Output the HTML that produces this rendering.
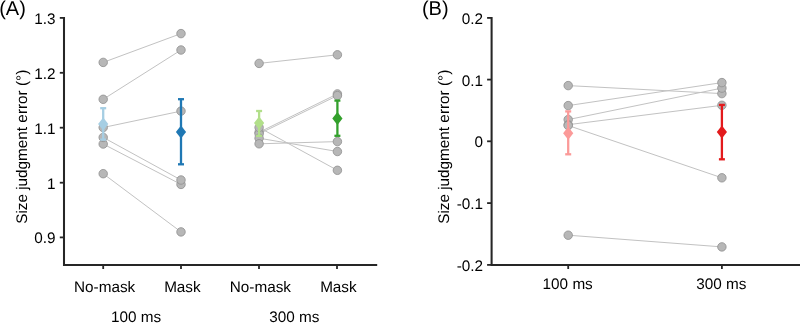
<!DOCTYPE html>
<html><head><meta charset="utf-8"><title>Figure</title>
<style>
html,body{margin:0;padding:0;background:#fff;}
svg{display:block;will-change:transform;}
text{text-rendering:geometricPrecision;font-family:"Liberation Sans",sans-serif;fill:#000;}
</style></head>
<body>
<svg width="800" height="323" viewBox="0 0 800 323">
<rect width="800" height="323" fill="#ffffff"/>
<line x1="103.2" y1="62.4" x2="181.0" y2="33.6" stroke="#c2c2c2" stroke-width="1"/>
<line x1="103.2" y1="99.3" x2="181.0" y2="50.0" stroke="#c2c2c2" stroke-width="1"/>
<line x1="103.2" y1="173.7" x2="181.0" y2="231.9" stroke="#c2c2c2" stroke-width="1"/>
<line x1="103.2" y1="144.0" x2="181.0" y2="184.4" stroke="#c2c2c2" stroke-width="1"/>
<line x1="103.2" y1="137.4" x2="181.0" y2="180.0" stroke="#c2c2c2" stroke-width="1"/>
<line x1="103.2" y1="127.5" x2="181.0" y2="111.1" stroke="#c2c2c2" stroke-width="1"/>
<line x1="259.1" y1="63.4" x2="337.4" y2="54.8" stroke="#c2c2c2" stroke-width="1"/>
<line x1="259.1" y1="132.3" x2="337.4" y2="93.9" stroke="#c2c2c2" stroke-width="1"/>
<line x1="259.1" y1="133.8" x2="337.4" y2="95.6" stroke="#c2c2c2" stroke-width="1"/>
<line x1="259.1" y1="127.5" x2="337.4" y2="170.3" stroke="#c2c2c2" stroke-width="1"/>
<line x1="259.1" y1="138.2" x2="337.4" y2="151.5" stroke="#c2c2c2" stroke-width="1"/>
<line x1="259.1" y1="143.8" x2="337.4" y2="141.6" stroke="#c2c2c2" stroke-width="1"/>
<circle cx="103.2" cy="62.4" r="4.25" fill="#b7b7b7" stroke="#8f8f8f" stroke-width="0.8"/>
<circle cx="181.0" cy="33.6" r="4.25" fill="#b7b7b7" stroke="#8f8f8f" stroke-width="0.8"/>
<circle cx="103.2" cy="99.3" r="4.25" fill="#b7b7b7" stroke="#8f8f8f" stroke-width="0.8"/>
<circle cx="181.0" cy="50.0" r="4.25" fill="#b7b7b7" stroke="#8f8f8f" stroke-width="0.8"/>
<circle cx="103.2" cy="173.7" r="4.25" fill="#b7b7b7" stroke="#8f8f8f" stroke-width="0.8"/>
<circle cx="181.0" cy="231.9" r="4.25" fill="#b7b7b7" stroke="#8f8f8f" stroke-width="0.8"/>
<circle cx="103.2" cy="144.0" r="4.25" fill="#b7b7b7" stroke="#8f8f8f" stroke-width="0.8"/>
<circle cx="181.0" cy="184.4" r="4.25" fill="#b7b7b7" stroke="#8f8f8f" stroke-width="0.8"/>
<circle cx="103.2" cy="137.4" r="4.25" fill="#b7b7b7" stroke="#8f8f8f" stroke-width="0.8"/>
<circle cx="181.0" cy="180.0" r="4.25" fill="#b7b7b7" stroke="#8f8f8f" stroke-width="0.8"/>
<circle cx="103.2" cy="127.5" r="4.25" fill="#b7b7b7" stroke="#8f8f8f" stroke-width="0.8"/>
<circle cx="181.0" cy="111.1" r="4.25" fill="#b7b7b7" stroke="#8f8f8f" stroke-width="0.8"/>
<circle cx="259.1" cy="63.4" r="4.25" fill="#b7b7b7" stroke="#8f8f8f" stroke-width="0.8"/>
<circle cx="337.4" cy="54.8" r="4.25" fill="#b7b7b7" stroke="#8f8f8f" stroke-width="0.8"/>
<circle cx="259.1" cy="132.3" r="4.25" fill="#b7b7b7" stroke="#8f8f8f" stroke-width="0.8"/>
<circle cx="337.4" cy="93.9" r="4.25" fill="#b7b7b7" stroke="#8f8f8f" stroke-width="0.8"/>
<circle cx="259.1" cy="133.8" r="4.25" fill="#b7b7b7" stroke="#8f8f8f" stroke-width="0.8"/>
<circle cx="337.4" cy="95.6" r="4.25" fill="#b7b7b7" stroke="#8f8f8f" stroke-width="0.8"/>
<circle cx="259.1" cy="127.5" r="4.25" fill="#b7b7b7" stroke="#8f8f8f" stroke-width="0.8"/>
<circle cx="337.4" cy="170.3" r="4.25" fill="#b7b7b7" stroke="#8f8f8f" stroke-width="0.8"/>
<circle cx="259.1" cy="138.2" r="4.25" fill="#b7b7b7" stroke="#8f8f8f" stroke-width="0.8"/>
<circle cx="337.4" cy="151.5" r="4.25" fill="#b7b7b7" stroke="#8f8f8f" stroke-width="0.8"/>
<circle cx="259.1" cy="143.8" r="4.25" fill="#b7b7b7" stroke="#8f8f8f" stroke-width="0.8"/>
<circle cx="337.4" cy="141.6" r="4.25" fill="#b7b7b7" stroke="#8f8f8f" stroke-width="0.8"/>
<g stroke="#a6cee3" stroke-width="2.3" fill="none"><line x1="103.2" y1="108.2" x2="103.2" y2="139.6"/><line x1="100.2" y1="108.2" x2="106.2" y2="108.2"/><line x1="100.2" y1="139.6" x2="106.2" y2="139.6"/></g><polygon points="103.2,117.4 108.3,123.9 103.2,130.4 98.10000000000001,123.9" fill="#a6cee3"/>
<g stroke="#1f78b4" stroke-width="2.3" fill="none"><line x1="181.0" y1="99.2" x2="181.0" y2="164.3"/><line x1="178.0" y1="99.2" x2="184.0" y2="99.2"/><line x1="178.0" y1="164.3" x2="184.0" y2="164.3"/></g><polygon points="181.0,125.4 186.1,131.9 181.0,138.4 175.9,131.9" fill="#1f78b4"/>
<g stroke="#b2df8a" stroke-width="2.3" fill="none"><line x1="259.1" y1="111.0" x2="259.1" y2="135.9"/><line x1="256.1" y1="111.0" x2="262.1" y2="111.0"/><line x1="256.1" y1="135.9" x2="262.1" y2="135.9"/></g><polygon points="259.1,116.5 264.20000000000005,123.0 259.1,129.5 254.00000000000003,123.0" fill="#b2df8a"/>
<g stroke="#33a02c" stroke-width="2.3" fill="none"><line x1="337.4" y1="100.6" x2="337.4" y2="135.8"/><line x1="334.4" y1="100.6" x2="340.4" y2="100.6"/><line x1="334.4" y1="135.8" x2="340.4" y2="135.8"/></g><polygon points="337.4,111.9 342.5,118.4 337.4,124.9 332.29999999999995,118.4" fill="#33a02c"/>
<g stroke="#262626" fill="none">
<path d="M64,17 V264.9 H377.2" stroke-width="2.05"/>
<line x1="59.8" y1="17.9" x2="64" y2="17.9" stroke-width="1.8"/>
<line x1="59.8" y1="72.8" x2="64" y2="72.8" stroke-width="1.8"/>
<line x1="59.8" y1="127.7" x2="64" y2="127.7" stroke-width="1.8"/>
<line x1="59.8" y1="182.7" x2="64" y2="182.7" stroke-width="1.8"/>
<line x1="59.8" y1="237.4" x2="64" y2="237.4" stroke-width="1.8"/>
<line x1="103.2" y1="264.9" x2="103.2" y2="269" stroke-width="1.8"/>
<line x1="181.0" y1="264.9" x2="181.0" y2="269" stroke-width="1.8"/>
<line x1="259.0" y1="264.9" x2="259.0" y2="269" stroke-width="1.8"/>
<line x1="337.0" y1="264.9" x2="337.0" y2="269" stroke-width="1.8"/>
</g>
<line x1="568.2" y1="85.6" x2="721.9" y2="93.6" stroke="#c2c2c2" stroke-width="1"/>
<line x1="568.2" y1="119.6" x2="721.9" y2="88.1" stroke="#c2c2c2" stroke-width="1"/>
<line x1="568.2" y1="105.6" x2="721.9" y2="82.6" stroke="#c2c2c2" stroke-width="1"/>
<line x1="568.2" y1="124.7" x2="721.9" y2="105.3" stroke="#c2c2c2" stroke-width="1"/>
<line x1="568.2" y1="125.5" x2="721.9" y2="177.8" stroke="#c2c2c2" stroke-width="1"/>
<line x1="568.2" y1="235.2" x2="721.9" y2="246.9" stroke="#c2c2c2" stroke-width="1"/>
<circle cx="568.2" cy="85.6" r="4.25" fill="#b7b7b7" stroke="#8f8f8f" stroke-width="0.8"/>
<circle cx="721.9" cy="93.6" r="4.25" fill="#b7b7b7" stroke="#8f8f8f" stroke-width="0.8"/>
<circle cx="568.2" cy="119.6" r="4.25" fill="#b7b7b7" stroke="#8f8f8f" stroke-width="0.8"/>
<circle cx="721.9" cy="88.1" r="4.25" fill="#b7b7b7" stroke="#8f8f8f" stroke-width="0.8"/>
<circle cx="568.2" cy="105.6" r="4.25" fill="#b7b7b7" stroke="#8f8f8f" stroke-width="0.8"/>
<circle cx="721.9" cy="82.6" r="4.25" fill="#b7b7b7" stroke="#8f8f8f" stroke-width="0.8"/>
<circle cx="568.2" cy="124.7" r="4.25" fill="#b7b7b7" stroke="#8f8f8f" stroke-width="0.8"/>
<circle cx="721.9" cy="105.3" r="4.25" fill="#b7b7b7" stroke="#8f8f8f" stroke-width="0.8"/>
<circle cx="568.2" cy="125.5" r="4.25" fill="#b7b7b7" stroke="#8f8f8f" stroke-width="0.8"/>
<circle cx="721.9" cy="177.8" r="4.25" fill="#b7b7b7" stroke="#8f8f8f" stroke-width="0.8"/>
<circle cx="568.2" cy="235.2" r="4.25" fill="#b7b7b7" stroke="#8f8f8f" stroke-width="0.8"/>
<circle cx="721.9" cy="246.9" r="4.25" fill="#b7b7b7" stroke="#8f8f8f" stroke-width="0.8"/>
<g stroke="#fb9a99" stroke-width="2.3" fill="none"><line x1="568.2" y1="111.4" x2="568.2" y2="154.3"/><line x1="565.2" y1="111.4" x2="571.2" y2="111.4"/><line x1="565.2" y1="154.3" x2="571.2" y2="154.3"/></g><polygon points="568.2,126.69999999999999 573.3000000000001,133.2 568.2,139.7 563.1,133.2" fill="#fb9a99"/>
<g stroke="#e31a1c" stroke-width="2.3" fill="none"><line x1="721.9" y1="104.9" x2="721.9" y2="159.3"/><line x1="718.9" y1="104.9" x2="724.9" y2="104.9"/><line x1="718.9" y1="159.3" x2="724.9" y2="159.3"/></g><polygon points="721.9,125.6 727.0,132.1 721.9,138.6 716.8,132.1" fill="#e31a1c"/>
<g stroke="#262626" fill="none">
<path d="M491.6,17 V264.9 H800" stroke-width="2.05"/>
<line x1="487.1" y1="17.9" x2="491.6" y2="17.9" stroke-width="1.8"/>
<line x1="487.1" y1="79.6" x2="491.6" y2="79.6" stroke-width="1.8"/>
<line x1="487.1" y1="141.3" x2="491.6" y2="141.3" stroke-width="1.8"/>
<line x1="487.1" y1="203.1" x2="491.6" y2="203.1" stroke-width="1.8"/>
<line x1="487.1" y1="264.9" x2="491.6" y2="264.9" stroke-width="1.8"/>
<line x1="568.2" y1="264.9" x2="568.2" y2="269" stroke-width="1.8"/>
<line x1="721.9" y1="264.9" x2="721.9" y2="269" stroke-width="1.8"/>
</g>
<text x="55.5" y="23.9" text-anchor="end" font-size="15.3" >1.3</text>
<text x="55.5" y="78.8" text-anchor="end" font-size="15.3" >1.2</text>
<text x="55.5" y="133.7" text-anchor="end" font-size="15.3" >1.1</text>
<text x="55.5" y="188.7" text-anchor="end" font-size="15.3" >1</text>
<text x="55.5" y="243.4" text-anchor="end" font-size="15.3" >0.9</text>
<text x="483.0" y="23.9" text-anchor="end" font-size="15.3" >0.2</text>
<text x="483.0" y="85.6" text-anchor="end" font-size="15.3" >0.1</text>
<text x="483.0" y="147.3" text-anchor="end" font-size="15.3" >0</text>
<text x="483.0" y="209.1" text-anchor="end" font-size="15.3" >-0.1</text>
<text x="483.0" y="270.5" text-anchor="end" font-size="15.3" >-0.2</text>
<text x="104.60000000000001" y="291.7" text-anchor="middle" font-size="15.3" >No-mask</text>
<text x="182.4" y="291.7" text-anchor="middle" font-size="15.3" >Mask</text>
<text x="260.4" y="291.7" text-anchor="middle" font-size="15.3" >No-mask</text>
<text x="338.4" y="291.7" text-anchor="middle" font-size="15.3" >Mask</text>
<text x="136.0" y="321.8" text-anchor="middle" font-size="15.3" >100 ms</text>
<text x="294.4" y="321.8" text-anchor="middle" font-size="15.3" >300 ms</text>
<text x="567.7" y="288.7" text-anchor="middle" font-size="15.3" >100 ms</text>
<text x="721.4" y="288.7" text-anchor="middle" font-size="15.3" >300 ms</text>
<text x="-0.8" y="14.7" text-anchor="start" font-size="20" >(A)</text>
<text x="421.9" y="14.7" text-anchor="start" font-size="20" >(B)</text>
<text transform="translate(27,146.8) rotate(-90)" text-anchor="middle" font-size="15.3">Size judgment error (°)</text>
<text transform="translate(449.3,146.8) rotate(-90)" text-anchor="middle" font-size="15.3">Size judgment error (°)</text>
</svg>
</body></html>
